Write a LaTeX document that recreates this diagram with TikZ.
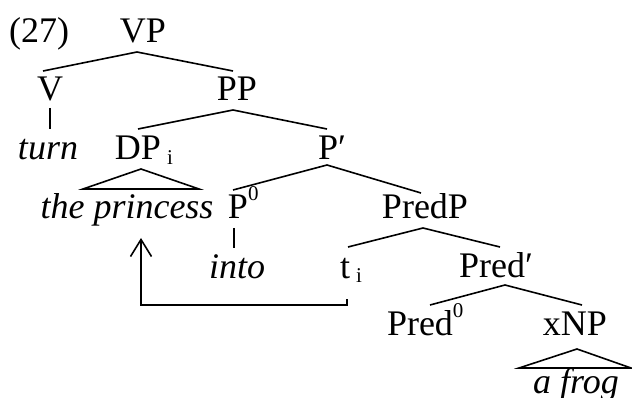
\documentclass[tikz,border=0pt]{standalone}
\usepackage{fontspec}
\setmainfont{Liberation Serif}
\usetikzlibrary{arrows.meta}
\newcommand{\supz}{\rlap{\raisebox{18pt}{\fontsize{21}{21}\selectfont 0}}}
\newcommand{\subi}{\rlap{\hspace{6pt}\raisebox{-5pt}{\fontsize{21}{21}\selectfont i}}}
\begin{document}
\begin{tikzpicture}[x=1pt,y=-1pt,
  lab/.style={inner sep=0pt, anchor=base, font=\fontsize{36}{40}\selectfont},
  edge/.style={line width=1.6pt},
  movearrow/.style={line width=1.6pt, -{Straight Barb[length=17pt,width=21pt,line width=1.6pt]}}]
\useasboundingbox (0,0) rectangle (632,398);
\node[lab, anchor=base west] (num) at (9,43) {(27)};
\node[lab] (VP) at (143,43) {VP};
\node[lab] (V) at (50,101) {V};
\node[lab] (PP) at (237,101) {PP};
\node[lab] (turn) at (48,160) {\itshape turn};
\node[lab] (DP) at (138,160) {DP\subi};
\node[lab] (Pbar) at (332,160) {P′};
\node[lab] (princess) at (127,219) {\itshape the princess};
\node[lab] (P0) at (238,219) {P\supz};
\node[lab] (PredP) at (425,219) {PredP};
\node[lab] (into) at (237,278) {\itshape into};
\node[lab] (t) at (345,278) {t\subi};
\node[lab] (Predbar) at (496,277) {Pred′};
\node[lab] (Pred0) at (420,335) {Pred\supz};
\node[lab] (xNP) at (575,335) {xNP};
\node[lab] (frog) at (576,393) {\itshape a frog};
% branches
\draw[edge] ([shift={(-7,-30)}]V.base) -- ([shift={(-6,9)}]VP.base) -- ([shift={(-4,-30)}]PP.base);
\draw[edge] ([shift={(0,7)}]V.base) -- ([shift={(2,-31)}]turn.base);
\draw[edge] ([shift={(0,-31)}]DP.base) -- ([shift={(-4,9)}]PP.base) -- ([shift={(-5,-31)}]Pbar.base);
\draw[edge] ([shift={(3,9)}]DP.base) -- ([shift={(-55,29)}]DP.base) -- ([shift={(61,29)}]DP.base) -- cycle;
\draw[edge] ([shift={(-5,-29)}]P0.base) -- ([shift={(-5,5)}]Pbar.base) -- ([shift={(-4,-26)}]PredP.base);
\draw[edge] ([shift={(-4,9)}]P0.base) -- ([shift={(-3,-30)}]into.base);
\draw[edge] ([shift={(3,-31)}]t.base) -- ([shift={(-2,9)}]PredP.base) -- ([shift={(4,-30)}]Predbar.base);
\draw[edge] ([shift={(10,-30)}]Pred0.base) -- ([shift={(9,8)}]Predbar.base) -- ([shift={(7,-30)}]xNP.base);
\draw[edge] ([shift={(2,14)}]xNP.base) -- ([shift={(-56,33)}]xNP.base) -- ([shift={(56,33)}]xNP.base) -- cycle;
% movement arrow
\draw[movearrow] ([shift={(2,21)}]t.base) -- ([shift={(2,27)}]t.base) -| ([shift={(14,19)}]princess.base);
\end{tikzpicture}
\end{document}
